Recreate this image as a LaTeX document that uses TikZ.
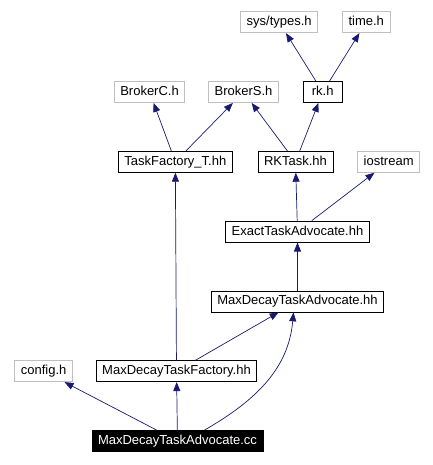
\documentclass[tikz,border=0pt]{standalone}
\usepackage{fontspec}
\setmainfont{Liberation Sans}
\usetikzlibrary{positioning,arrows.meta}
\definecolor{edgeblue}{HTML}{191970}
\definecolor{extgray}{HTML}{BFBFBF}

\begin{document}
\begin{tikzpicture}[x=1pt,y=-1pt,node distance=48pt,
    hdr/.style={draw=black,line width=0.8pt,minimum height=21pt,inner xsep=6pt,inner ysep=0pt,
      font=\fontsize{13}{15}\selectfont,text height=9.5pt,text depth=2.5pt},
    ext/.style={hdr,draw=extgray},
    dep/.style={draw=edgeblue,line width=0.7pt,-{Triangle[length=9pt,width=7pt]}}] %
    \useasboundingbox (0,0) rectangle (432,465); %
    \node[hdr,fill=black,text=white] (cc) at (177.5,441) {MaxDecayTaskAdvocate.cc} ; %
    \node[hdr, above=of cc,xshift=-1pt] (mdtf) {MaxDecayTaskFactory.hh} ; %
    \node[ext, left=23pt of mdtf] (config) {config.h} ; %
    \node[hdr, above=of mdtf,xshift=121pt] (mdta) {MaxDecayTaskAdvocate.hh};
    \node[hdr, above=of mdta] (exact) {ExactTaskAdvocate.hh};
    \node[hdr, above=of exact,xshift=-2pt] (rktask) {RKTask.hh};
    \node[ext, right=24pt of rktask] (iostream) {iostream};
    \node[hdr, left=25pt of rktask] (tft) {TaskFactory\_T.hh};
    \node[ext, above=of rktask,xshift=-52pt] (brokers) {BrokerS.h};
    \node[ext, left=23pt of brokers] (brokerc) {BrokerC.h};
    \node[hdr, right=24pt of brokers,minimum width=39pt] (rk) {rk.h};
    \node[ext, above=of rk,xshift=-43.5pt] (systypes) {sys/types.h};
    \node[ext, right=24pt of systypes] (timeh) {time.h};
    \draw[dep] (rk) -- (systypes) ; %
    \draw[dep] (rk) -- (timeh);
    \draw[dep] (tft) -- (brokerc);
    \draw[dep] (tft) -- (brokers);
    \draw[dep] (rktask) -- (brokers);
    \draw[dep] (rktask) -- (rk);
    \draw[dep] (exact) -- (rktask);
    \draw[dep] (exact) -- (iostream);
    \draw[dep] (mdta) -- (exact);
    \draw[dep] (mdtf) -- (tft);
    \draw[dep] (mdtf) -- (mdta);
    \draw[dep] (cc) -- (config);
    \draw[dep] (cc) -- (mdtf);
    \draw[dep] ([xshift=27pt]cc.north) to[out=30,in=-95] ([xshift=-4pt]mdta.south);
  \end{tikzpicture}
\end{document}
